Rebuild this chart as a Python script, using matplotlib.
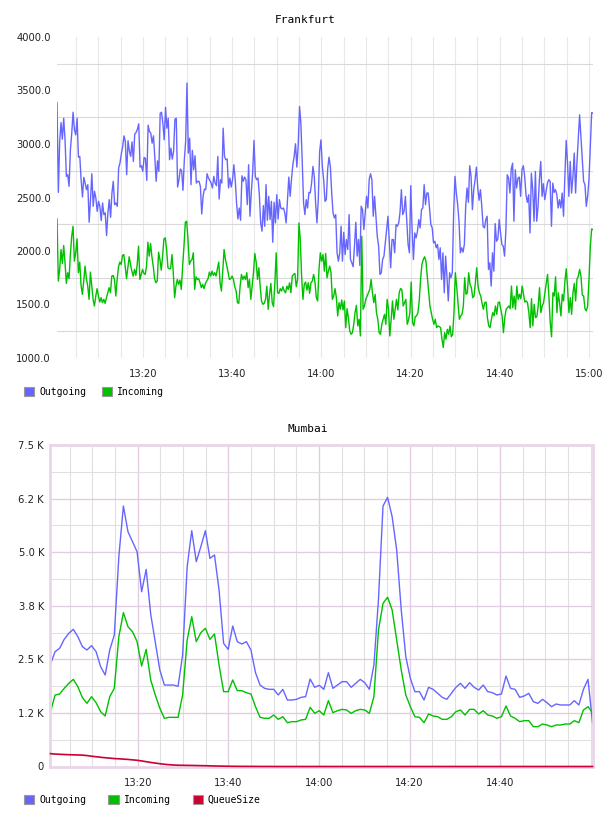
import numpy as np
import matplotlib
matplotlib.use("Agg")
import matplotlib.pyplot as plt
from matplotlib.patches import Patch
from matplotlib.ticker import FixedLocator, MultipleLocator, FuncFormatter

# time axis is minutes after 13:00
fra_start, fra_end = 0.75, 120.9
mum_start, mum_end = 0.75, 120.4

fra_outgoing = [
    3387, 2548, 3023, 3200, 3045, 3241, 3039, 2697, 2713, 2604, 2946, 3101, 3297, 3132, 3085, 3241,
    2877, 2884, 2666, 2505, 2688, 2635, 2573, 2620, 2269, 2480, 2722, 2418, 2558, 2495, 2371, 2464,
    2418, 2284, 2449, 2340, 2356, 2144, 2356, 2480, 2315, 2542, 2651, 2433, 2449, 2418, 2775, 2822,
    2908, 2977, 3076, 3023, 2713, 3030, 2936, 2884, 3020, 2837, 3092, 3107, 3138, 3188, 2784, 2797,
    2744, 2874, 2865, 2660, 3176, 3117, 3101, 3008, 3076, 2874, 2651, 2843, 2744, 3287, 3297, 3194,
    3039, 3343, 3148, 3241, 2853, 2961, 2859, 2930, 3231, 3241, 2598, 2666, 2766, 2753, 2567, 2846,
    3023, 3570, 2915,
    3054, 2620, 2940, 2759, 2890, 2635, 2651, 2651, 2604, 2346, 2511, 2579, 2573, 2722, 2682, 2660,
    2635, 2589, 2697, 2635, 2610, 2884, 2486, 2666, 2635, 3148, 2884, 2853, 2859, 2589, 2682, 2598,
    2666, 2806, 2666, 2449, 2300, 2402, 2287, 2703, 2651, 2691, 2666, 2433, 2806, 2325, 2548, 2728,
    3033, 2697, 2666, 2682, 2526, 2262, 2185, 2424, 2231, 2620, 2287, 2511, 2294, 2464, 2082, 2455,
    2262, 2526, 2300, 2480, 2402, 2393, 2402, 2356, 2262, 2480, 2691, 2511, 2672, 2806, 2884, 3002,
    2784, 2992, 3350, 3194, 2837, 2449, 2340, 2480, 2402, 2548, 2542, 2635, 2790, 2697, 2449, 2262,
    2480, 2930, 3039,
    2790, 2666, 2464, 2480, 2766, 2877, 2790, 2542, 2356, 2309, 2340, 1983, 1905, 1983, 2231, 1905,
    2175, 1967, 2107, 2014, 2340, 1921, 1890, 1853, 2045, 2269, 1952, 2107, 1865, 2418, 2387, 2200,
    2355, 2511, 2402, 2672, 2722, 2666, 2325, 2511, 2325, 2138, 2045, 1781, 1797, 1921, 1952, 2076,
    2194, 2325, 2076, 1843, 2107, 2107, 1983, 2247, 2231, 2262, 2362, 2573, 2340, 2371, 2511, 2294,
    2061, 1983, 2610, 2200, 1921, 2169, 2123, 2185, 2294, 2216, 2387, 2402, 2620, 2433, 2542, 2542,
    2402, 2247, 2216, 2076, 2091, 2030, 2061, 1921, 2030, 1734, 1983, 1610, 1952, 1765, 1533, 1797,
    1750, 1797, 2355, 2697, 2542,
    2433, 2278, 1983, 2030, 1989, 2061, 2418, 2589, 2455, 2797, 2697, 2387, 2573, 2666, 2784, 2589,
    2474, 2573, 2418, 2231, 2216, 2294, 2325, 1828, 1890, 1672, 1983, 1812, 2256, 2091, 2113, 2294,
    2169, 2061, 2045, 1952, 2200, 2713, 2682, 2542, 2766, 2821, 2278, 2759, 2589, 2682, 2691, 2511,
    2759, 2797, 2697, 2526, 2455, 2526, 2169, 2728, 2573, 2278, 2744, 2278, 2418, 2666, 2837, 2511,
    2629, 2480, 2558, 2635, 2666, 2651, 2231, 2635, 2548, 2573, 2526, 2402, 2480, 2402, 2542, 2325,
    2697, 3033, 2821, 2511, 2837, 2542, 2691, 2915, 2542, 2821, 3039, 3272, 3070, 2853, 2651, 2620,
    2418, 2511, 2666, 2977, 3294, 3287,
]

fra_incoming = [
    2300, 1719, 1828, 2014, 1884, 2051, 1890, 1697, 1797, 1741, 1967, 2138, 2231, 1905, 1983, 2113,
    1797, 1896, 1679, 1595, 1719, 1859, 1741, 1672, 1548, 1803, 1679, 1548, 1486, 1579, 1648, 1579,
    1523, 1564, 1517, 1548, 1511, 1564, 1610, 1657, 1610, 1765, 1772, 1734, 1579, 1734, 1852, 1896,
    1874, 1958, 1967, 1859, 1741, 1843, 1946, 1874, 1812, 1765, 1828, 1772, 1874, 2045, 1734, 1781,
    1828, 1790, 1781, 1859, 2082, 1952, 2070, 1946, 1859, 1741, 1703, 1719, 1989, 1921, 1821, 1952,
    2113, 2123, 2014, 1843, 1834, 1834, 1967, 1797, 1564, 1672, 1734, 1688, 1728, 1641, 1859, 2045,
    2269, 2278,
    2107, 1874, 1905, 1921, 1983, 1641, 1759, 1734, 1741, 1703, 1657, 1688, 1648, 1697, 1719, 1741,
    1803, 1765, 1812, 1772, 1797, 1765, 1834, 1896, 1703, 1626, 1812, 2014, 1921, 1865, 1797, 1734,
    1741, 1765, 1734, 1666, 1626, 1517, 1511, 1672, 1781, 1734, 1765, 1734, 1797, 1657, 1734, 1548,
    1672, 1797, 1977, 1896, 1734, 1843, 1672, 1533, 1502, 1511, 1548, 1672, 1455, 1595, 1697, 1517,
    1480, 1703, 1983, 1610, 1604, 1648, 1626, 1666, 1626, 1610, 1672, 1641, 1703, 1610, 1765, 1781,
    1790, 1666, 1734, 2262, 2107, 1765, 1548, 1688, 1710, 1635, 1703, 1604, 1703, 1719, 1781, 1710,
    1564, 1533, 1828, 1983, 1905,
    1967, 1812, 1977, 1750, 1812, 1859, 1797, 1548, 1579, 1648, 1564, 1393, 1517, 1455, 1542, 1449,
    1533, 1284, 1461, 1377, 1253, 1222, 1237, 1315, 1424, 1492, 1300, 1362, 1206, 2138, 1455, 1486,
    1548, 1579, 1610, 1641, 1734, 1610, 1517, 1595, 1424, 1362, 1237, 1222, 1315, 1362, 1408, 1315,
    1548, 1455, 1206, 1362, 1533, 1362, 1455, 1548, 1449, 1610, 1648, 1641, 1486, 1517, 1548, 1315,
    1355, 1424, 1710, 1331, 1300, 1387, 1393, 1424, 1533, 1734, 1874, 1921, 1946, 1905, 1765, 1626,
    1486, 1424, 1362, 1315, 1362, 1284, 1300, 1293, 1284, 1175, 1098, 1237, 1175, 1268, 1222, 1300,
    1198, 1222, 1424, 1797, 1672,
    1517, 1362, 1393, 1408, 1486, 1750, 1595, 1610, 1797, 1688, 1657, 1564, 1579, 1703, 1843, 1672,
    1610, 1579, 1511, 1455, 1517, 1523, 1377, 1300, 1284, 1362, 1424, 1393, 1486, 1408, 1517, 1523,
    1455, 1393, 1237, 1377, 1455, 1470, 1486, 1461, 1672, 1470, 1579, 1455, 1672, 1548, 1595, 1554,
    1672, 1595, 1523, 1533, 1517, 1424, 1284, 1554, 1300, 1502, 1377, 1387, 1486, 1657, 1424, 1486,
    1517, 1610, 1697, 1781, 1579, 1331, 1198, 1610, 1579, 1759, 1424, 1610, 1517, 1393, 1595, 1533,
    1719, 1834, 1657, 1424, 1564, 1408, 1610, 1697, 1533, 1734, 1765, 1828, 1765, 1588, 1579, 1461,
    1440, 1486, 1734, 2045, 2206, 2200,
]

mum_outgoing = [
    2391, 2679, 2757, 2966, 3106, 3200, 3029, 2795, 2718, 2819, 2679, 2329, 2134, 2718, 3067, 4895,
    6077, 5478, 5245, 5011, 4078, 4599, 3550, 2900, 2250, 1900, 1900, 1900, 1870, 2600, 4661, 5501,
    4778, 5128, 5501, 4856, 4934, 4117, 2873, 2733, 3277, 2912, 2858, 2912, 2718, 2189, 1901, 1823,
    1800, 1800, 1668, 1800, 1551, 1551, 1567, 1613, 1629, 2041, 1847, 1893, 1800, 2189, 1823, 1901,
    1979, 1979, 1847, 1940, 2033, 1956, 1800, 2368, 3900, 6077, 6279, 5828, 5050, 3650, 2562, 2057,
    1746, 1746, 1551, 1847, 1800, 1707, 1613, 1567, 1707, 1847, 1940, 1823, 1956, 1847, 1784, 1901,
    1746, 1722, 1668, 1691, 2111, 1823, 1800, 1613, 1645, 1707, 1512, 1473, 1567, 1489, 1396, 1458,
    1435, 1435, 1435, 1536, 1435, 1800, 2033, 1020,
]

mum_incoming = [
    1279, 1668, 1691, 1823, 1940, 2033, 1862, 1606, 1473, 1629, 1489, 1279, 1178, 1629, 1823, 3029,
    3589, 3262, 3145, 2912, 2344, 2733, 2018, 1668, 1357, 1124, 1147, 1147, 1147, 1668, 2951, 3495,
    2912, 3122, 3223, 2966, 3091, 2368, 1746, 1746, 2018, 1769, 1769, 1722, 1691, 1396, 1147, 1124,
    1124, 1201, 1100, 1162, 1022, 1046, 1046, 1085, 1100, 1380, 1240, 1302, 1201, 1536, 1256, 1302,
    1333, 1318, 1240, 1302, 1333, 1318, 1240, 1629, 3184, 3806, 3950, 3651, 2951, 2251, 1668, 1396,
    1162, 1147, 1022, 1225, 1178, 1162, 1100, 1100, 1162, 1279, 1318, 1201, 1333, 1333, 1225, 1302,
    1201, 1178, 1124, 1162, 1411, 1178, 1124, 1046, 1069, 1069, 929, 929, 991, 968, 929, 968,
    968, 991, 991, 1069, 1022, 1318, 1396, 1256,
]

mum_queue = [
    300, 290, 285, 280, 275, 272, 270, 265, 255, 240, 228, 215, 205, 195, 185, 180,
    172, 165, 155, 145, 130, 112, 95, 80, 65, 52, 42, 35, 30, 28, 26, 25,
    22, 20, 18, 15, 12, 10, 8, 6, 5, 4, 3, 3, 2, 2, 1, 1,
    1, 0, 0, 0, 0, 0, 0, 0, 0, 0, 0, 0, 0, 0, 0, 0,
    0, 0, 0, 0, 0, 0, 0, 0, 0, 0, 0, 0, 0, 0, 0, 0,
    0, 0, 0, 0, 0, 0, 0, 0, 0, 0, 0, 0, 0, 0, 0, 0,
    0, 0, 0, 0, 0, 0, 0, 0, 0, 0, 0, 0, 0, 0, 0, 0,
    0, 0, 0, 0, 0, 0, 0, 0,
]

c_out = "#6666ff"
c_in = "#00c000"
c_queue = "#cc0033"
purple = "#e2cce2"
mono = "DejaVu Sans Mono"


def hhmm(x, pos=None):
    m = int(round(x))
    return "%d:%02d" % (13 + m // 60, m % 60)


def k_fmt(y, pos=None):
    if y == 0:
        return "0"
    return "%.1f K" % (y / 1000.0)


def legend_handles(colors):
    return [Patch(facecolor=c, edgecolor="#999999", linewidth=0.8) for c in colors]


fig = plt.figure(figsize=(6.08, 8.16), dpi=100)

# Frankfurt
ax1 = fig.add_axes([57 / 608, 1 - 358 / 816, (593 - 57) / 608, (358 - 37) / 816])
t_out = np.linspace(fra_start, fra_end, len(fra_outgoing))
t_in = np.linspace(fra_start, fra_end, len(fra_incoming))
ax1.plot(t_out, fra_outgoing, color=c_out, lw=1.0)
ax1.plot(t_in, fra_incoming, color=c_in, lw=1.0)
ax1.set_xlim(fra_start, fra_end)
ax1.set_ylim(1000, 4000)
ax1.xaxis.set_major_locator(MultipleLocator(20))
ax1.xaxis.set_minor_locator(MultipleLocator(5))
ax1.xaxis.set_major_formatter(FuncFormatter(hhmm))
ax1.yaxis.set_major_locator(MultipleLocator(500))
ax1.yaxis.set_minor_locator(FixedLocator([1250, 1750, 2250, 2750, 3250, 3750]))
ax1.yaxis.set_major_formatter(FuncFormatter(lambda y, p: "%.1f" % y))
ax1.grid(True, which="both", axis="x", color="#e8e8e8", lw=0.8)
ax1.grid(True, which="minor", axis="y", color="#d9d9d9", lw=0.8)
ax1.set_axisbelow(True)
for s in ax1.spines.values():
    s.set_visible(False)
ax1.tick_params(which="both", length=0, labelsize=7.2, colors="#222222")
ax1.tick_params(axis="x", pad=8)
ax1.tick_params(axis="y", pad=4.5)
fig.text(305 / 608, 1 - 20 / 816, "Frankfurt", ha="center", va="center",
         family=mono, fontsize=8)
fig.legend(legend_handles([c_out, c_in]), ["Outgoing", "Incoming"],
           loc="center left", bbox_to_anchor=(24 / 608, 1 - 392 / 816), ncol=2,
           frameon=False, borderpad=0, borderaxespad=0, handlelength=1.05,
           handleheight=1.05, handletextpad=0.5, columnspacing=1.6,
           prop={"family": mono, "size": 7})

# Mumbai
ax2 = fig.add_axes([50.3 / 608, 1 - 766.5 / 816, (593 - 50.3) / 608, (766.5 - 445) / 816])
tm = np.linspace(mum_start, mum_end, len(mum_outgoing))
ax2.plot(tm, mum_outgoing, color=c_out, lw=1.0)
ax2.plot(np.linspace(mum_start, mum_end, len(mum_incoming)), mum_incoming, color=c_in, lw=1.0)
ax2.plot(np.linspace(mum_start, mum_end, len(mum_queue)), mum_queue, color=c_queue,
         lw=1.2, clip_on=False, zorder=5)
ax2.set_xlim(0.7, 120.5)
ax2.set_ylim(0, 7500)
ax2.xaxis.set_major_locator(FixedLocator([20, 40, 60, 80, 100]))
ax2.xaxis.set_minor_locator(MultipleLocator(5))
ax2.xaxis.set_major_formatter(FuncFormatter(hhmm))
ax2.yaxis.set_major_locator(MultipleLocator(1250))
ax2.yaxis.set_minor_locator(MultipleLocator(625))
ax2.yaxis.set_major_formatter(FuncFormatter(k_fmt))
ax2.grid(True, which="major", color=purple, lw=1.0)
ax2.grid(True, which="minor", color="#e0e0e0", lw=0.8)
ax2.set_axisbelow(True)
for s in ax2.spines.values():
    s.set_color("#e8d6e8")
    s.set_linewidth(2.0)
ax2.tick_params(which="both", length=0, labelsize=7.2, colors="#222222")
ax2.tick_params(axis="x", pad=8)
ax2.tick_params(axis="y", pad=4.5)
fig.text(308 / 608, 1 - 429 / 816, "Mumbai", ha="center", va="center",
         family=mono, fontsize=8)
fig.legend(legend_handles([c_out, c_in, c_queue]), ["Outgoing", "Incoming", "QueueSize"],
           loc="center left", bbox_to_anchor=(24 / 608, 1 - 800 / 816), ncol=3,
           frameon=False, borderpad=0, borderaxespad=0, handlelength=1.05,
           handleheight=1.05, handletextpad=0.5, columnspacing=2.3,
           prop={"family": mono, "size": 7})

fig.savefig("out.png", dpi=100)
